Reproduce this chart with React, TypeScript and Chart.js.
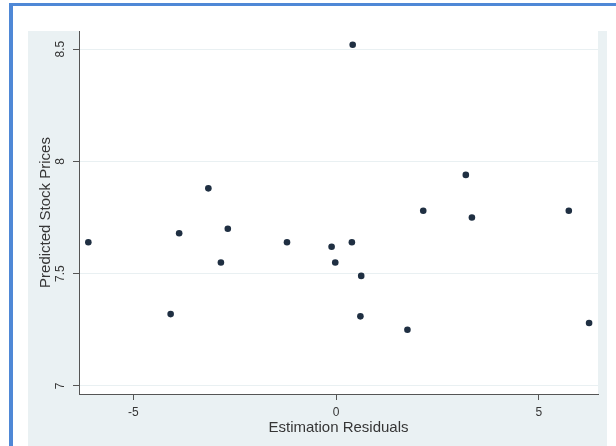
import { useEffect, useRef } from 'react';
import { Chart, registerables } from 'chart.js';

Chart.register(...registerables);

// Estimation residuals (x) and predicted stock prices (y)
const residuals = [
  -6.11, -4.08, -3.87, -3.15, -2.84, -2.67, -1.21, -0.11, -0.02, 0.39,
  0.62, 0.6, 0.41, 1.76, 2.15, 3.2, 3.35, 5.74, 6.24,
];
const predicted = [
  7.64, 7.32, 7.68, 7.88, 7.55, 7.7, 7.64, 7.62, 7.55, 7.64,
  7.49, 7.31, 8.52, 7.25, 7.78, 7.94, 7.75, 7.78, 7.28,
];
const xTicks = [-5, 0, 5];
const yTicks = [7, 7.5, 8, 8.5];

const FONT = "'Liberation Sans', Arial, sans-serif";
const TEXT = '#363636';
const AXIS = '#555555';

// white plot region on the grey graph region, like Stata
const plotBg = {
  id: 'plotBg',
  beforeDraw(chart: Chart) {
    const { ctx, chartArea } = chart;
    if (!chartArea) return;
    ctx.save();
    ctx.fillStyle = '#ffffff';
    ctx.fillRect(chartArea.left, chartArea.top, chartArea.width, chartArea.height);
    ctx.restore();
  },
};

// drop the extra room chart.js keeps for edge tick labels
const noEdgePadding = (scale: any) => {
  scale.paddingTop = 0;
  scale.paddingBottom = 0;
  scale.paddingLeft = 0;
  scale.paddingRight = 0;
};

const ScatterChart = () => {
  const canvasRef = useRef<HTMLCanvasElement>(null);
  const chartRef = useRef<Chart | null>(null);

  useEffect(() => {
    if (!canvasRef.current) return;
    if (chartRef.current) chartRef.current.destroy();

    const points = residuals.map((x, i) => ({ x, y: predicted[i] }));

    chartRef.current = new Chart(canvasRef.current, {
      type: 'scatter',
      data: {
        datasets: [{
          data: points,
          backgroundColor: '#1f2f42',
          borderWidth: 0,
          pointRadius: 3.3,
        }],
      },
      plugins: [plotBg],
      options: {
        responsive: false,
        animation: false,
        events: [],
        layout: { autoPadding: false, padding: { left: 0, right: 9, top: 0, bottom: 0 } },
        plugins: {
          legend: { display: false },
          tooltip: { enabled: false },
        },
        scales: {
          x: {
            type: 'linear',
            min: -6.34,
            max: 6.46,
            afterBuildTicks: (scale: any) => {
              scale.ticks = xTicks.map((v) => ({ value: v }));
            },
            afterFit: (scale: any) => {
              scale.height = 52;
              noEdgePadding(scale);
            },
            grid: {
              drawOnChartArea: false,
              drawTicks: true,
              tickLength: 6,
              tickColor: AXIS,
              tickWidth: 1,
            },
            border: { display: true, color: AXIS, width: 1 },
            ticks: {
              padding: 5,
              color: TEXT,
              font: { family: FONT, size: 12 },
              maxRotation: 0,
              callback: (v: any) => String(v),
            },
            title: {
              display: true,
              text: 'Estimation Residuals',
              color: TEXT,
              font: { family: FONT, size: 15 },
              padding: { top: 0, bottom: 9 },
            },
          },
          y: {
            type: 'linear',
            min: 6.964,
            max: 8.581,
            afterBuildTicks: (scale: any) => {
              scale.ticks = yTicks.map((v) => ({ value: v }));
            },
            afterFit: (scale: any) => {
              scale.width = 51;
              noEdgePadding(scale);
            },
            grid: {
              color: '#e9f0f2',
              lineWidth: 1,
              drawTicks: true,
              tickLength: 6,
              tickColor: AXIS,
              tickWidth: 1,
            },
            border: { display: true, color: AXIS, width: 1 },
            ticks: {
              minRotation: 90,
              maxRotation: 90,
              crossAlign: 'center',
              padding: 4,
              color: TEXT,
              font: { family: FONT, size: 12 },
              callback: (v: any) => String(v),
            },
            title: {
              display: true,
              text: 'Predicted Stock Prices',
              color: TEXT,
              font: { family: FONT, size: 15 },
              padding: { top: 9, bottom: 0 },
            },
          },
        },
      },
    });

    return () => {
      if (chartRef.current) {
        chartRef.current.destroy();
        chartRef.current = null;
      }
    };
  }, []);

  return <canvas ref={canvasRef} width={579} height={415} style={{ display: 'block' }} />;
};

const App = () => {
  return (
    <div style={{ position: 'fixed', left: 0, top: 0, width: 616, height: 446, background: '#ffffff', overflow: 'hidden' }}>
      <div
        style={{
          position: 'absolute', left: 9, top: 3, width: 620, height: 450,
          borderLeft: '4px solid #4f88d6', borderTop: '3px solid #4f88d6',
        }}
      />
      <div style={{ position: 'absolute', left: 28, top: 31, width: 579, height: 415, background: '#eaf1f3' }}>
        <ScatterChart />
      </div>
    </div>
  );
};

export default App;
